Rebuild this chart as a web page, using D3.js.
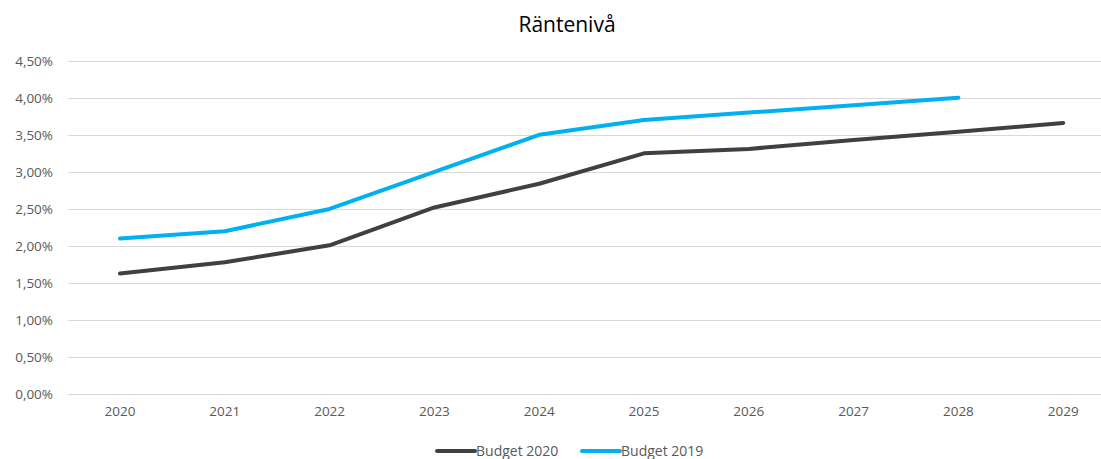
<!DOCTYPE html>
<html>
<head>
<meta charset="utf-8">
<script src="https://cdn.jsdelivr.net/npm/d3@7"></script>
<style>
  html, body { margin: 0; padding: 0; background: #fff; }
  svg { display: block; }
  text { font-family: "Open Sans", sans-serif; }
</style>
</head>
<body>
<svg id="chart" width="1101" height="459"></svg>
<script>
// Interest rate level per year, two budget versions
const years = ["2020","2021","2022","2023","2024","2025","2026","2027","2028","2029"];
const budget2020 = [1.63, 1.78, 2.01, 2.52, 2.84, 3.25, 3.31, 3.43, 3.54, 3.66];
const budget2019 = [2.10, 2.20, 2.50, 3.00, 3.50, 3.70, 3.80, 3.90, 4.00, null];
const yTicks = [0, 0.5, 1, 1.5, 2, 2.5, 3, 3.5, 4, 4.5];
const seriesNames = ["Budget 2020", "Budget 2019"];
const seriesColors = ["#404040", "#00b0f0"];

const svg = d3.select("#chart");
const margin = { left: 67.6, right: 1115.6, top: 60.7, bottom: 394.3 };
const font = "'Open Sans', sans-serif";

const x = d3.scaleBand().domain(years).range([margin.left, margin.right]);
const y = d3.scaleLinear().domain([0, 4.5]).range([margin.bottom, margin.top]);

const fmt = v => d3.format(".2f")(v).replace(".", ",") + "%";

// Title
svg.append("text")
  .attr("x", 567).attr("y", 32)
  .attr("text-anchor", "middle")
  .attr("font-size", 21)
  .attr("fill", "#000")
  .text("Räntenivå");

// Horizontal gridlines
svg.append("g").selectAll("line").data(yTicks).join("line")
  .attr("x1", margin.left).attr("x2", margin.right)
  .attr("y1", d => Math.round(y(d)) + 0.5).attr("y2", d => Math.round(y(d)) + 0.5)
  .attr("stroke", "#d9d9d9").attr("stroke-width", 1);

// Y axis labels
const yAxis = d3.axisLeft(y).tickValues(yTicks).tickFormat(fmt).tickSize(0).tickPadding(0);
const gy = svg.append("g").attr("transform", "translate(53,0)").call(yAxis);
gy.select(".domain").remove();
gy.selectAll("text").attr("font-size", 13.5).attr("fill", "#595959")
  .style("font-family", font);

// X axis labels
const xAxis = d3.axisBottom(x).tickSize(0).tickPadding(0);
const gx = svg.append("g").attr("transform", "translate(0,406)").call(xAxis);
gx.select(".domain").remove();
gx.selectAll("text").attr("font-size", 13.5).attr("fill", "#595959")
  .style("font-family", font);

// Lines
const line = d3.line()
  .defined(d => d.v != null)
  .x(d => x(d.year) + x.bandwidth() / 2)
  .y(d => y(d.v));

[budget2020, budget2019].forEach((vals, i) => {
  const data = years.map((yr, j) => ({ year: yr, v: vals[j] }));
  svg.append("path")
    .datum(data)
    .attr("fill", "none")
    .attr("stroke", seriesColors[i])
    .attr("stroke-width", 4)
    .attr("stroke-linecap", "round")
    .attr("stroke-linejoin", "round")
    .attr("d", line);
});

// Legend
const legendItems = [
  { x: 437, name: seriesNames[0], color: seriesColors[0] },
  { x: 582, name: seriesNames[1], color: seriesColors[1] }
];
const lg = svg.append("g");
legendItems.forEach(it => {
  lg.append("line")
    .attr("x1", it.x).attr("x2", it.x + 38)
    .attr("y1", 451).attr("y2", 451)
    .attr("stroke", it.color).attr("stroke-width", 4)
    .attr("stroke-linecap", "round");
  lg.append("text")
    .attr("x", it.x + 39).attr("y", 456)
    .attr("font-size", 14).attr("fill", "#595959")
    .text(it.name);
});
</script>
</body>
</html>
